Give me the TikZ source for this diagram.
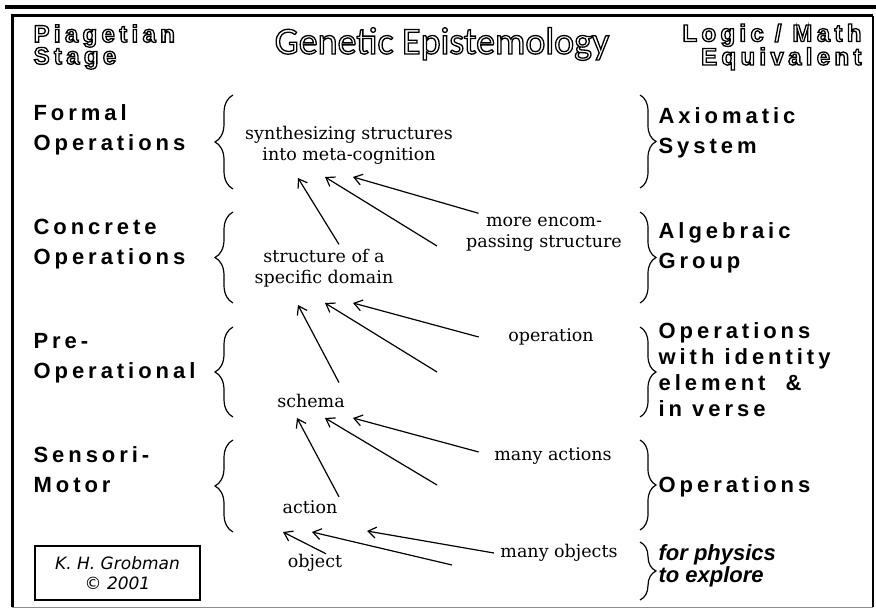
\documentclass[tikz,border=0pt]{standalone}
\usepackage{fontspec}
\setmainfont{DejaVu Serif}
\newfontfamily\labelfont{Liberation Sans}[LetterSpace=18,UprightFont={* Bold}]
\newfontfamily\physfont{Liberation Sans}[UprightFont={* Bold Italic}]
\newfontfamily\titlefont{Carlito}
\newfontfamily\signfont{DejaVu Sans}
\usetikzlibrary{arrows.meta,decorations.pathreplacing}
\newcommand{\stagefont}{\labelfont\fontsize{22}{30}\selectfont}
\newcommand{\ideafont}{\fontsize{17.5}{21}\selectfont}
\newcommand{\hollow}[1]{\special{pdf:literal direct 1 Tr 1.3 w}#1\special{pdf:literal direct 0 Tr}}
\tikzset{
  stage/.style={font=\stagefont,anchor=west,align=left,inner sep=0pt},
  heading/.style={font=\labelfont\fontsize{24}{22}\selectfont,inner sep=0pt},
  idea/.style={font=\ideafont,align=center,inner sep=0pt},
  lbrace/.style={decorate,decoration={brace,amplitude=18pt},line width=1.2pt},
  rbrace/.style={decorate,decoration={brace,amplitude=16pt},line width=1.2pt},
  signbox/.style={draw,line width=1.2pt,minimum width=165pt,minimum height=54pt,align=center,
    font=\signfont\itshape\fontsize{17}{20}\selectfont},
}

\begin{document}
\begin{tikzpicture}[x=1pt,y=-1pt,>={Straight Barb[length=8pt,width=11pt]},line width=1.2pt]
  \useasboundingbox (0,0) rectangle (876,609);
  \draw[line width=3.5pt] (5,7) -- (876,7);
  \draw[line width=3pt] (12,607) -- (12,16) -- (873,16);
  \draw[line width=1.2pt] (873,16) -- (873,607);
  \draw[line width=1pt,black!45] (873,607) -- (12,607);

  \node[heading,anchor=west,align=left] (stage) at (33,47) {\hollow{Piagetian}\\\hollow{Stage}};
  \node[inner sep=0pt,font=\titlefont\fontsize{38}{38}\selectfont] (title) at (442,44) {\hollow{Genetic Epistemology}};
  \node[heading,anchor=east,align=right] (logic) at (862,47) {\hollow{Logic / Math}\\\hollow{Equivalent}};

  \node[stage] (formal) at (33,130) {Formal\\Operations};
  \node[stage] (concrete) at (33,244) {Concrete\\Operations};
  \node[stage] (preop) at (33,358) {Pre-\\Operational};
  \node[stage] (sensori) at (33,470) {Sensori-\\Motor};

  \draw[lbrace] (233,189) -- (233,95);
  \draw[lbrace] (233,303) -- (233,212);
  \draw[lbrace] (233,417) -- (233,327);
  \draw[lbrace] (233,532) -- (233,440);

  \node[idea] (synth) at (349,145) {synthesizing structures\\into meta-cognition};
  \node[idea] (domain) at (324,268) {structure of a\\specific domain};
  \node[idea] (schema) at (311,401) {schema};
  \node[idea] (action) at (310,507) {action};
  \node[idea] (object) at (315,563) {object};
  \node[idea] (encom) at (544,234) {more encom-\\passing structure};
  \node[idea] (oper) at (551,337) {operation};
  \node[idea] (manyact) at (553,456) {many actions};
  \node[idea] (manyobj) at (559,553) {many objects};

  \coordinate (s1) at (298,178);
  \coordinate (s2) at (325,177);
  \coordinate (s3) at (353,177);
  \coordinate (d1) at (298,305);
  \coordinate (d2) at (325,303);
  \coordinate (d3) at (353,303);
  \coordinate (c1) at (297,418);
  \coordinate (c2) at (325,418);
  \coordinate (c3) at (353,418);
  \coordinate (a1) at (283,532);
  \coordinate (a2) at (312,532);
  \coordinate (a3) at (367,531);
  \coordinate (free1) at (437,246);
  \coordinate (free2) at (437,372);
  \coordinate (free3) at (437,485);
  \coordinate (free4) at (452,565);

  \draw[->] ([xshift=15pt,yshift=4pt]domain.north) -- (s1);
  \draw[->] (free1) -- (s2);
  \draw[->] ([xshift=13pt,yshift=3pt]encom.north west) -- (s3);
  \draw[->] ([xshift=28pt,yshift=11pt]schema.north) -- (d1);
  \draw[->] (free2) -- (d2);
  \draw[->] ([xshift=-29pt]oper.west) -- (d3);
  \draw[->] ([xshift=29pt,yshift=3pt]action.north) -- (c1);
  \draw[->] (free3) -- (c2);
  \draw[->] ([xshift=-15pt,yshift=4pt]manyact.west) -- (c3);
  \draw[->] ([xshift=11pt]object.north) -- (a1);
  \draw[->] (free4) -- (a2);
  \draw[->] ([xshift=-6pt]manyobj.west) -- (a3);

  \draw[rbrace] (640,95) -- (640,188);
  \draw[rbrace] (640,212) -- (640,303);
  \draw[rbrace] (640,327) -- (640,417);
  \draw[rbrace] (640,440) -- (640,530);
  \draw[rbrace] (640,542) -- (640,600);

  \node[stage] (axiom) at (658,133) {Axiomatic\\System};
  \node[stage] (algebra) at (658,248) {Algebraic\\Group};
  \node[stage,font=\stagefont\fontsize{22}{26}\selectfont] (identity) at (658,370) {Operations\\with identity\\element \ \&\\in verse};
  \node[stage] (ops) at (658,487) {Operations};
  \node[stage,font=\physfont\fontsize{22}{22}\selectfont] (physics) at (658,566) {for physics\\to explore};

  \node[signbox] (author) at (117.5,573) {K. H. Grobman\\© 2001};
\end{tikzpicture}
\end{document}
